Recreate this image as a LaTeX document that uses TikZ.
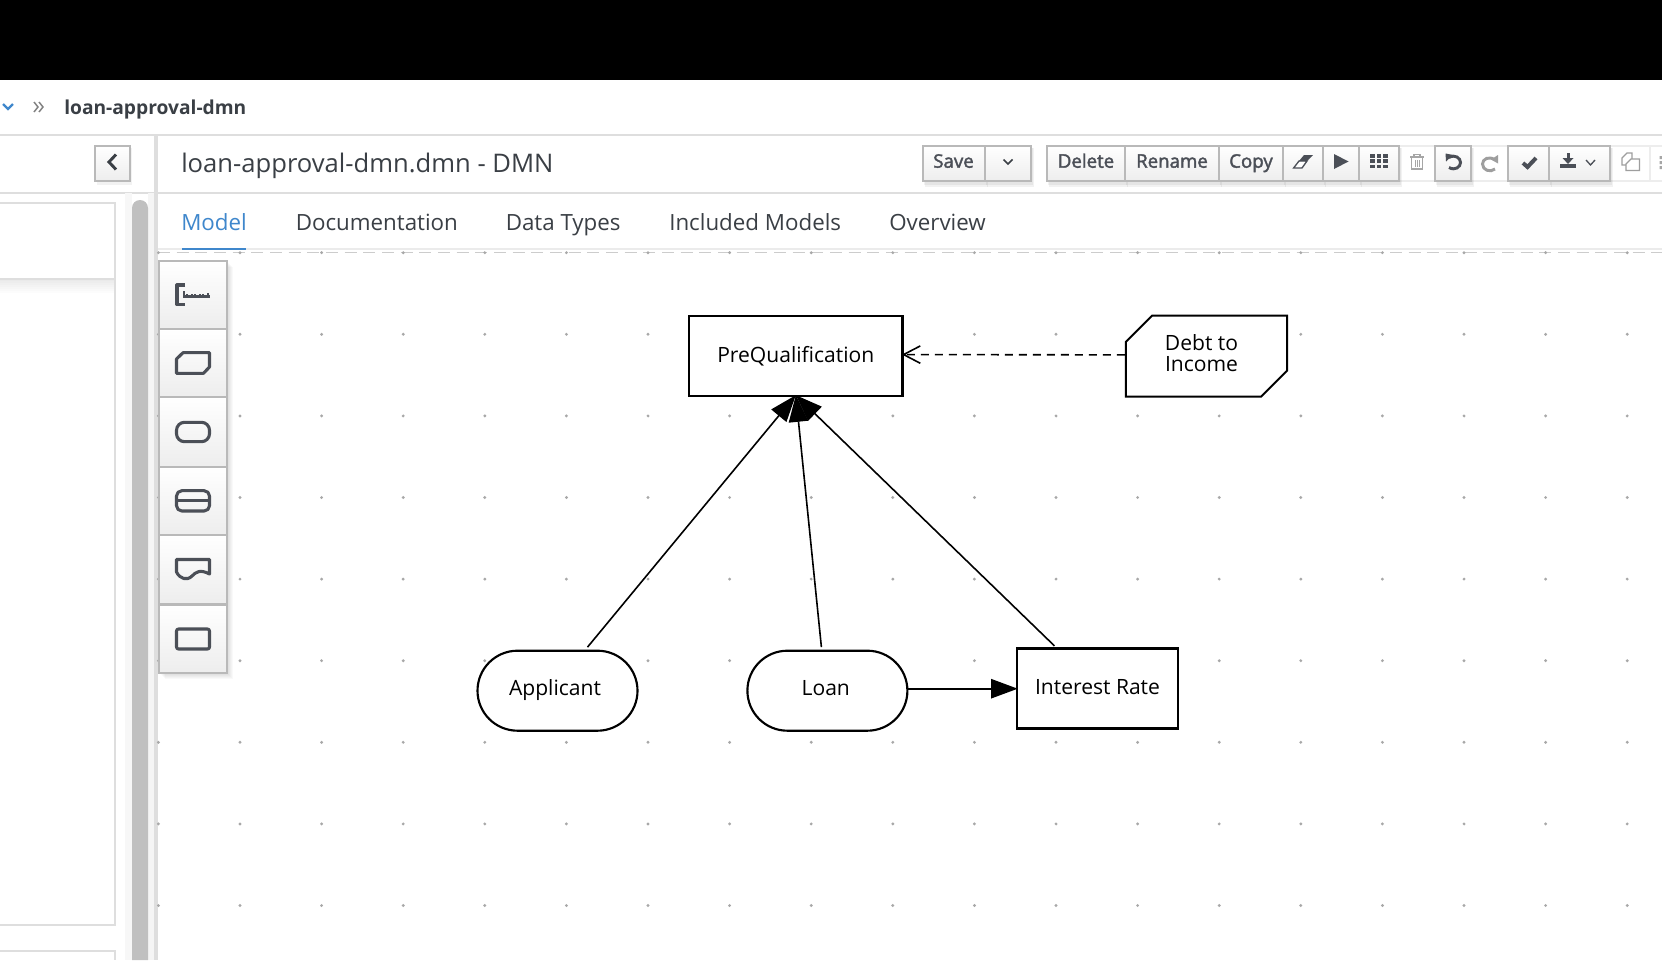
\documentclass[tikz,border=0pt]{standalone}
\usepackage{fontspec}
\setmainfont{Open Sans}
\newfontfamily\semib[FakeBold=2]{Open Sans}
\usetikzlibrary{arrows.meta,shapes.misc,calc}
\definecolor{ink}{HTML}{3A3F45}
\definecolor{bord}{HTML}{B9B9B9}
\definecolor{rule}{HTML}{DEDEDE}
\definecolor{blue}{HTML}{3F87CC}
\definecolor{dotc}{HTML}{A8A8A8}
\definecolor{icon}{HTML}{4B4F57}
\definecolor{sbar}{HTML}{C0C0C0}
\tikzset{
  x=0.75pt,y=-0.75pt,
  rulel/.style={draw=rule,line width=1.5pt},
  btn/.style={draw=bord,line width=1.5pt,top color=white,bottom color=black!7},
  btnoff/.style={draw=black!7,line width=1pt,fill=white},
  shad/.style={fill=black,opacity=0.05,draw=none},
  btxt/.style={font=\semib\fontsize{14}{16}\selectfont,text=icon,anchor=base,inner sep=0pt},
  tabt/.style={font=\fontsize{16.75}{20}\selectfont,text=ink,anchor=base west,inner sep=0pt},
  dmn/.style={draw=black,fill=white,line width=1.9pt,inner sep=0pt,font=\fontsize{15.8}{15.5}\selectfont,text=black,text height=11pt,text depth=3.7pt},
  dmnoval/.style={dmn,rounded rectangle,line width=1.6pt,minimum width=120pt,minimum height=60pt},
  dmnrect/.style={dmn,rectangle,minimum height=60pt,text height=12.4pt,text depth=3pt},
  conn/.style={draw=black,line width=1.2pt},
  head/.style={conn,-{Triangle[length=20pt,width=14.5pt]}},
  ico/.style={draw=icon,line width=2.3pt,line join=round,rounded corners=1.5pt},
}
\newcommand{\shbtn}[3]{%
  \fill[shad] (#1+2,#2+2) rectangle (#3+3,187);
  \fill[shad] (#1+1,#2+2) rectangle (#3+2,185);
  \path[btn] (#1,#2) rectangle (#3,181);
}
\begin{document}
\begin{tikzpicture}
\useasboundingbox (0,0) rectangle (1662,960);
\fill[white] (0,0) rectangle (1662,960);
\fill[black] (0,0) rectangle (1662,80);

% horizontal rules
\draw[draw=black!20,dashed,dash pattern=on 9pt off 5pt,line width=.7pt] (158,252.6) -- (1662,252.6);
\draw[draw=black!8,line width=1.5pt] (158,248.5) -- (1662,248.5);
\draw[rulel] (0,135) -- (1662,135);
\draw[rulel] (158,192.6) -- (1662,192.6);
\draw[rulel] (0,192.6) -- (154,192.6);

% left panel
\fill[black!3] (124.5,193) rectangle (132,960);
\fill[black!4] (148,193) rectangle (154,960);
\fill[sbar] (132,208) arc (180:360:8) -- (148,960) -- (132,960) -- cycle;
\fill[rule] (154,135) rectangle (158,960);
\draw[white,dashed,dash pattern=on 9pt off 5pt,line width=.7pt] (158,252) -- (158,960);
\draw[rule,line width=1.3pt] (0,203) -- (115,203) -- (115,925) -- (0,925);
\draw[rule,line width=1.3pt] (0,951) -- (115,951) -- (115,960);
\foreach \k in {0,...,6}{\fill[black,opacity=0.012] (0,279) rectangle (114,{281+2*\k});}
\draw[rule,line width=1.5pt] (0,279) -- (115,279);

% canvas dots
\foreach \i in {0,...,18}{\foreach \j in {0,...,8}{
  \fill[dotc] ({158.4+81.6*\i},{252.7+81.6*\j}) circle (1.6);
}}

% breadcrumb
\draw[blue,line width=1.6pt] (3,104) -- (8,109) -- (13,104);
\draw[black!50,line width=1.1pt] (34,102) -- (38,107) -- (34,112) (39,102) -- (43,107) -- (39,112);
\node[font=\bfseries\fontsize{14.4}{16}\selectfont,text=ink,anchor=base west,inner sep=0pt] (crumb) at (64,114) {loan-approval-dmn};

% collapse button
\fill[shad] (97,148) rectangle (132,185);
\path[btn] (95,146) rectangle (129.5,181);
\draw[ink,line width=2.2pt] (116,154.5) -- (109,162) -- (116,169.5);

% title and tabs
\node[font=\fontsize{19.2}{24}\selectfont,text=ink,anchor=base west,inner sep=0pt] (title) at (181,172.5) {loan-approval-dmn.dmn - DMN};
\node[tabt,text=blue] (tabmodel) at (181,230) {Model};
\node[tabt] (tabdoc) at (295.5,230) {Documentation};
\node[tabt] (tabtypes) at (505.5,230) {Data Types};
\node[tabt] (tabinc) at (669,230) {Included Models};
\node[tabt] (tabover) at (889,230) {Overview};
\fill[blue] (182,247.5) rectangle (246,250);

% toolbar: disabled buttons first
\path[btnoff] (1399,146) rectangle (1434.5,181);
\path[btnoff] (1471,146) rectangle (1508,181);
\path[btnoff] (1610,146) rectangle (1650,181);
\path[btnoff] (1650,146) rectangle (1664,181);
% enabled buttons
\shbtn{923}{146}{985}
\shbtn{985}{146}{1031}
\shbtn{1047}{146}{1125}
\shbtn{1125}{146}{1219}
\shbtn{1219}{146}{1283}
\shbtn{1283}{146}{1323}
\shbtn{1323}{146}{1359}
\shbtn{1359}{146}{1399}
\shbtn{1434.5}{146}{1471}
\shbtn{1508}{146}{1549}
\shbtn{1549}{146}{1610}
\node[btxt] (bsave) at (953.5,167.7) {Save};
\node[btxt] (bdelete) at (1086,167.7) {Delete};
\node[btxt] (brename) at (1172,167.7) {Rename};
\node[btxt] (bcopy) at (1251,167.7) {Copy};
% toolbar icons
\draw[ink,line width=1.2pt] (1003.5,159.5) -- (1008,164) -- (1012.5,159.5);
\draw[icon,line width=1pt,fill=white] (1293.6,168) -- (1299,161) -- (1307,161) -- (1302,168) -- cycle;
\fill[icon] (1299,161) -- (1304,155) -- (1313,155) -- (1307,161) -- cycle;
\fill[icon] (1334,154) -- (1348.5,161.5) -- (1334,169) -- cycle;
\foreach \i in {0,1,2}{\foreach \j in {0,1,2}{
  \fill[icon] ({1370+6.7*\i},{154+5.3*\j}) rectangle +(4.6,3.8);
}}
% trash (disabled)
\draw[black!35,line width=.8pt] (1410,157) -- (1424,157) (1414,157) -- (1414,154.5) -- (1420,154.5) -- (1420,157);
\draw[black!35,line width=.8pt] (1411.5,157) rectangle (1422.5,169);
\draw[black!35,line width=.7pt] (1415,160) -- (1415,166.5) (1417,160) -- (1417,166.5) (1419,160) -- (1419,166.5);
% undo
\draw[icon,line width=2.2pt] (1449,157.5) .. controls (1455,154) and (1460.5,158) .. (1460.5,162.5) .. controls (1460.5,167) and (1455,171) .. (1449,167.5);
\fill[icon] (1445.5,153.5) -- (1453,155) -- (1446,161.5) -- cycle;
% redo (disabled)
\draw[black!38,line width=2.2pt] (1495,160) .. controls (1489,155.5) and (1482.5,159) .. (1482.5,164) .. controls (1482.5,170) and (1490,173) .. (1495,169);
\fill[black!38] (1498,155) -- (1498,163.5) -- (1491,159.5) -- cycle;
% check
\draw[icon,line width=3pt] (1523,163) -- (1527.5,167) -- (1536,158);
% download
\fill[icon] (1566.5,152.7) rectangle (1569.5,160);
\fill[icon] (1562.5,158) -- (1573.5,158) -- (1568,164) -- cycle;
\fill[icon] (1559.5,163.5) rectangle (1576,168);
\draw[icon,line width=1pt] (1586,160) -- (1590.5,165) -- (1595,160);
% copy pages (disabled)
\draw[black!38,line width=.9pt,fill=white] (1622,158) -- (1627,153) -- (1632,153) -- (1632,165) -- (1622,165) -- cycle;
\draw[black!38,line width=.9pt,fill=white] (1631,159) -- (1639.5,159) -- (1639.5,170.5) -- (1626,170.5) -- (1626,164) -- cycle;
% cut off icon at right edge
\fill[black!35] (1659.5,156) rectangle (1662,159) (1659.5,161) rectangle (1662,164) (1659.5,166) rectangle (1662,169);

% palette
\foreach \k in {1,...,6}{\fill[black,opacity=0.022] ({158.8+\k},{261+\k}) rectangle ({227+\k},{673+\k});}
\path[btn] (158.8,260.7) rectangle (227,328.7);
\path[btn] (158.8,328.7) rectangle (227,396.7);
\path[btn] (158.8,396.7) rectangle (227,466.7);
\path[btn] (158.8,466.7) rectangle (227,535);
\path[btn] (158.8,535) rectangle (227,604);
\path[btn] (158.8,605) rectangle (227,673);
% palette icons
\draw[icon,line width=2.4pt,line join=round] (185,285) -- (177,285) -- (177,304.5) -- (185,304.5);
\draw[icon,line width=1.8pt] (183,296.5) -- (210,296.5);
\foreach \xx/\hh in {184/6,187/3,192/3,195/3,200/3,203/3,208/4}{\draw[icon,line width=1.9pt] (\xx,296.5) -- (\xx,296.5-\hh);}
\draw[ico,rounded corners=0pt] (183,352.7) -- (209.5,352.7) -- (209.5,367) -- (203.5,373.3) -- (176.5,373.3) -- (176.5,359) -- cycle;
\draw[ico,rounded corners=6pt] (176.5,422.3) rectangle (209.5,441.7);
\draw[ico,rounded corners=4pt] (176.5,490.7) rectangle (209.5,511);
\draw[icon,line width=2pt] (176.5,500.8) -- (209.5,500.8);
\draw[icon,line width=2.3pt,line join=round] (176.5,559.5) -- (209.5,559.5) -- (209.5,574) .. controls (200,569) and (196,572) .. (192,576) .. controls (187,581) and (180,579) .. (176.5,572) -- cycle;
\draw[ico] (176.5,629) rectangle (209.5,649);

% DMN nodes
\node[dmnrect,minimum width=160.2pt] (pq) at (795.8,355.9) {PreQualification};
\node[dmn,chamfered rectangle,chamfered rectangle corners={north west,south east},chamfered rectangle xsep=16.5pt,minimum width=120.8pt,minimum height=60.8pt,line width=1.5pt,align=center,text height=,text depth=4.5pt] (debt) at (1206.5,356.2) {Debt to\hspace*{7.5pt}\\Income\hspace*{7.5pt}};
\node[dmnoval] (app) at (557.5,690.7) {Applicant\hspace*{3.7pt}};
\node[dmnoval] (loan) at (827.4,690.7) {Loan\hspace*{2.5pt}};
\node[dmnrect,minimum width=120.8pt] (rate) at (1097.5,688.7) {Interest Rate};

% connectors
\draw[conn,dashed,dash pattern=on 6pt off 4.5pt,-{Straight Barb[length=12.5pt,width=13pt]}] ([yshift=1pt]debt.west) -- ([shift={(-2,0)},yshift=1pt]pq.east);
\draw[head] ([shift={(30,-2.5)}]app.north) -- ([yshift=1.5pt]pq.south);
\draw[head] ([shift={(-6,-2.5)}]loan.north) -- ([yshift=1.5pt]pq.south);
\draw[head] ([shift={(-43,-1.5)}]rate.north) -- ([yshift=1.5pt]pq.south);
\draw[head] (loan.east |- rate.west) -- ([xshift=1.5pt]rate.west);
\end{tikzpicture}
\end{document}
